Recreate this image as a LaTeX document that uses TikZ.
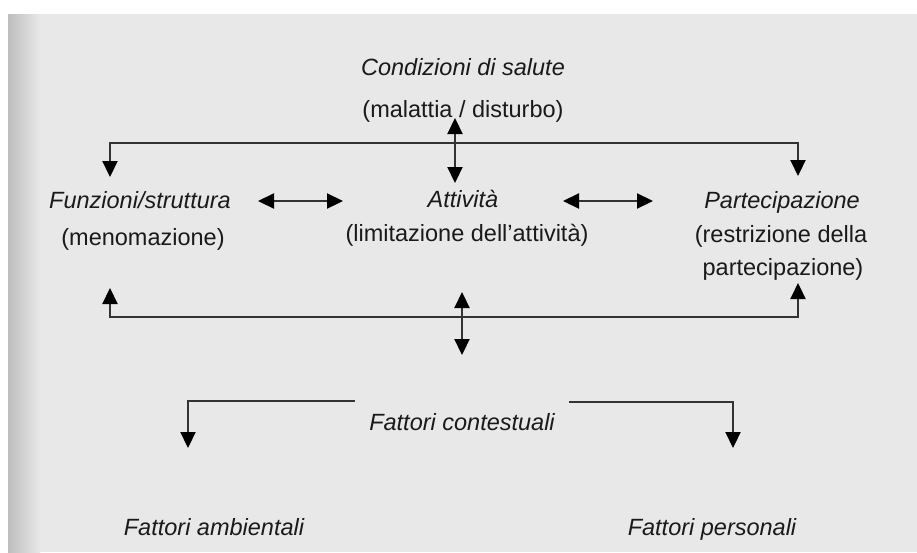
\documentclass[tikz,border=0pt]{standalone}
\usepackage{fontspec}
\setmainfont{Liberation Sans}
\usetikzlibrary{arrows.meta}
\definecolor{pagina}{HTML}{E8E8E8}
\definecolor{bordo}{HTML}{BEBEBE}
\definecolor{tratto}{HTML}{333333}
\definecolor{inchiostro}{HTML}{1A1A1A}
\begin{document}
\begin{tikzpicture}[x=1pt,y=-1pt,
    testo/.style={anchor=base,inner sep=0pt,text=inchiostro,font=\fontsize{23.5}{28}\selectfont},
    titolo/.style={testo,font=\fontsize{23.5}{28}\selectfont\itshape},
    linea/.style={draw=tratto,line width=2.2pt},
    punta/.tip={Triangle[length=16pt,width=15pt,fill=black,color=black]},
    freccia/.style={linea,-punta},
    doppia/.style={linea,punta-punta}]
\useasboundingbox (0,0) rectangle (917,552);
% fondo della pagina
\fill[pagina] (8,14) rectangle (917,552);
\shade[left color=bordo,right color=pagina] (8,14) rectangle (40,552);

% testi
\node[titolo] (cond)  at (463,75)  {Condizioni di salute};
\node[testo]  (mal)   at (463,117) {(malattia / disturbo)};
\node[titolo] (funz)  at (140,208) {Funzioni/struttura};
\node[testo]  (menom) at (143,245) {(menomazione)};
\node[titolo] (att)   at (463,207) {Attività};
\node[testo]  (limit) at (467,241) {(limitazione dell’attività)};
\node[titolo] (part)  at (782,208) {Partecipazione};
\node[testo]  (restr) at (781,242) {(restrizione della};
\node[testo]  (partb) at (783,275) {partecipazione)};
\node[titolo] (cont)  at (462,430) {Fattori contestuali};
\node[titolo] (amb)   at (214,535) {Fattori ambientali};
\node[titolo] (pers)  at (712,535) {Fattori personali};

% anello superiore
\coordinate (sup)  at (455,143);
\coordinate (supl) at (110,177);
\coordinate (supr) at (798,176);
\draw[freccia] (sup) -| (supl);
\draw[freccia] (sup) -| (supr);
\coordinate (salA) at (455,118);
\coordinate (salB) at (455,183);
\draw[doppia] (salA) -- (salB);

% frecce orizzontali
\coordinate (fa1) at (258,201);
\coordinate (fa2) at (343,201);
\coordinate (ap1) at (563,201);
\coordinate (ap2) at (653,201);
\draw[doppia] (fa1) -- (fa2);
\draw[doppia] (ap1) -- (ap2);

% anello inferiore
\coordinate (inf)  at (462,317);
\coordinate (infl) at (110,288);
\coordinate (infr) at (798,283);
\draw[freccia] (inf) -| (infl);
\draw[freccia] (inf) -| (infr);
\coordinate (ctxA) at (462,292);
\coordinate (ctxB) at (462,355);
\draw[doppia] (ctxA) -- (ctxB);

% fattori contestuali
\coordinate (ambA) at (355,401);
\coordinate (ambB) at (188,448);
\coordinate (perA) at (569,402);
\coordinate (perB) at (733,448);
\draw[freccia] (ambA) -| (ambB);
\draw[freccia] (perA) -| (perB);
\end{tikzpicture}
\end{document}
